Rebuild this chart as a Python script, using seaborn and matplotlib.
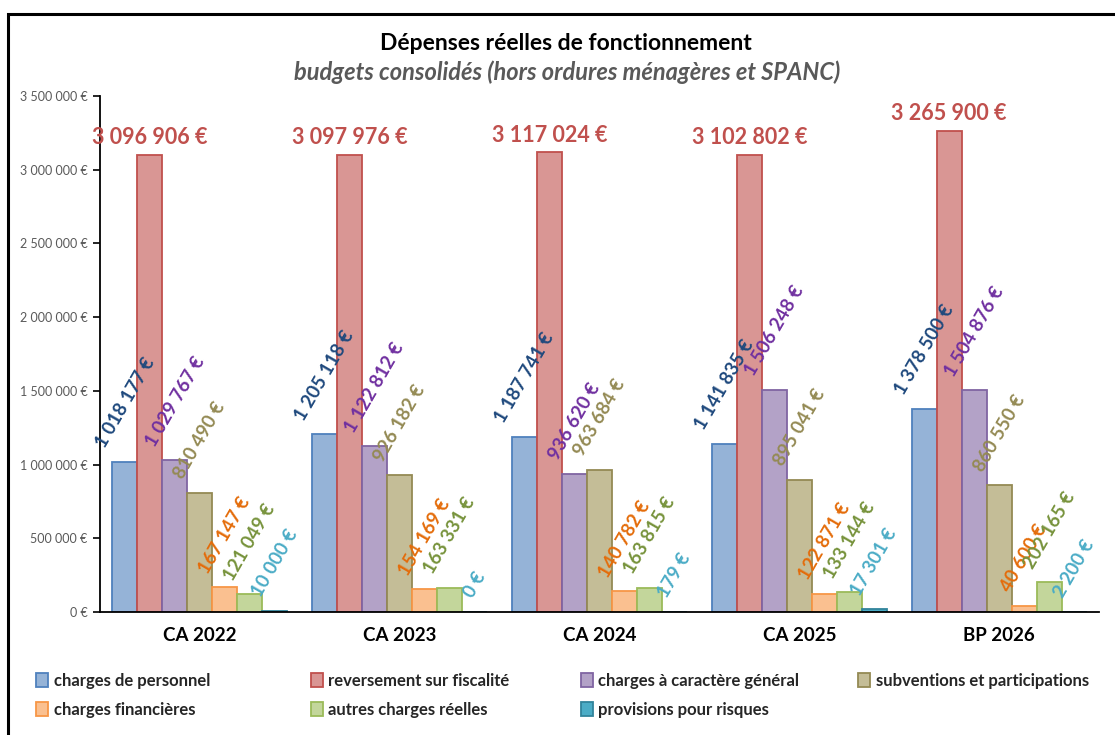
import matplotlib
matplotlib.use("Agg")
import matplotlib.pyplot as plt
import matplotlib.patches as mpatches
import seaborn as sns
import pandas as pd

# ---- data ----
categories = ["CA 2022", "CA 2023", "CA 2024", "CA 2025", "BP 2026"]
series_names = ["charges de personnel", "reversement sur fiscalité",
                "charges à caractère général", "subventions et participations",
                "charges financières", "autres charges réelles",
                "provisions pour risques"]
charges_personnel = [1018177, 1205118, 1187741, 1141835, 1378500]
reversement_fiscalite = [3096906, 3097976, 3117024, 3102802, 3265900]
charges_caractere_general = [1029767, 1122812, 936620, 1506248, 1504876]
subventions_participations = [810490, 926182, 963684, 895041, 860550]
charges_financieres = [167147, 154169, 140782, 122871, 40600]
autres_charges_reelles = [121049, 163331, 163815, 133144, 202165]
provisions_risques = [10000, 0, 179, 17301, 2200]
y_ticks = [0, 500000, 1000000, 1500000, 2000000, 2500000, 3000000, 3500000]

series_values = [charges_personnel, reversement_fiscalite, charges_caractere_general,
                 subventions_participations, charges_financieres,
                 autres_charges_reelles, provisions_risques]

fills = ["#95B3D7", "#D99694", "#B3A2C7", "#C4BD97", "#FAC090", "#C3D69B", "#4BACC6"]
edges = ["#4F81BD", "#C0504D", "#8064A2", "#948A54", "#F79646", "#9BBB59", "#31849B"]
label_colors = ["#1F497D", "#C0504D", "#7030A0", "#948A54", "#E46C0A", "#77933C", "#4BACC6"]

rows = []
for name, vals in zip(series_names, series_values):
    for cat, v in zip(categories, vals):
        rows.append({"categorie": cat, "serie": name, "valeur": v})
df = pd.DataFrame(rows)

sns.set_theme(style="white")
plt.rcParams["font.family"] = ["Lato", "DejaVu Sans"]

fig = plt.figure(figsize=(11.15, 7.35), dpi=100)
ax = fig.add_axes([100 / 1115, 1 - 612 / 735, 999 / 1115, (612 - 96) / 735])

sns.barplot(data=df, x="categorie", y="valeur", hue="serie",
            order=categories, hue_order=series_names, palette=fills,
            width=0.875, gap=0, ax=ax, legend=False, errorbar=None,
            saturation=1)

def fmt(v):
    return f"{v:,.0f}".replace(",", " ") + " €"

for i, cont in enumerate(ax.containers):
    for bar, v in zip(cont, series_values[i]):
        bar.set_edgecolor(edges[i])
        bar.set_linewidth(1.3)
        cx = bar.get_x() + bar.get_width() / 2
        top = bar.get_height()
        if i == 1:
            ax.annotate(fmt(v), (cx, top), xytext=(0, 5), textcoords="offset points",
                        ha="center", va="bottom", fontsize=15.5, fontweight="bold",
                        color=label_colors[i])
        else:
            ax.annotate(fmt(v), (cx, top), xytext=(0, 8), textcoords="offset points",
                        ha="center", va="bottom", rotation=60, fontsize=13.5,
                        fontweight="bold", color=label_colors[i])

ax.set_xlim(-0.5, 4.5)
ax.set_ylim(0, 3500000)
ax.set_yticks(y_ticks)
ax.set_yticklabels([fmt(t) for t in y_ticks], fontsize=9, color="#595959")
ax.tick_params(axis="y", direction="out", length=5, width=1.2, color="black", left=True, pad=4)
ax.tick_params(axis="x", length=0, pad=11)
for lbl in ax.get_xticklabels():
    lbl.set_fontweight("bold")
    lbl.set_fontsize(13.5)
    lbl.set_color("black")
ax.set_xlabel("")
ax.set_ylabel("")
for s in ["top", "right"]:
    ax.spines[s].set_visible(False)
for s in ["left", "bottom"]:
    ax.spines[s].set_color("black")
    ax.spines[s].set_linewidth(1.3)

fig.text(566 / 1115, 1 - 44 / 735, "Dépenses réelles de fonctionnement",
         ha="center", va="center", fontsize=16.5, fontweight="bold", color="black")
fig.text(567 / 1115, 1 - 72 / 735, "budgets consolidés (hors ordures ménagères et SPANC)",
         ha="center", va="center", fontsize=17, fontweight="bold", style="italic",
         color="#595959")

# legend in 4 columns placed like the reference
col_x = [36, 311, 581, 858]
columns = [[0, 4], [1, 5], [2, 6], [3]]
for cx, idxs in zip(col_x, columns):
    handles = [mpatches.Patch(facecolor=fills[k], edgecolor=edges[k], linewidth=1.3)
               for k in idxs]
    labels = [series_names[k] for k in idxs]
    fig.legend(handles, labels, loc="upper left",
               bbox_to_anchor=(cx / 1115, 1 - 673 / 735), frameon=False,
               handlelength=0.7, handleheight=0.9, handletextpad=0.35,
               labelspacing=0.75, borderpad=0, borderaxespad=0,
               prop={"weight": "bold", "size": 12})

frame = mpatches.Rectangle((8 / 1115, -0.1), 1.2, 1.1 - 14 / 735,
                           transform=fig.transFigure, fill=False,
                           linewidth=2.2, edgecolor="black")
fig.patches.append(frame)

fig.savefig("out.png", dpi=100)
